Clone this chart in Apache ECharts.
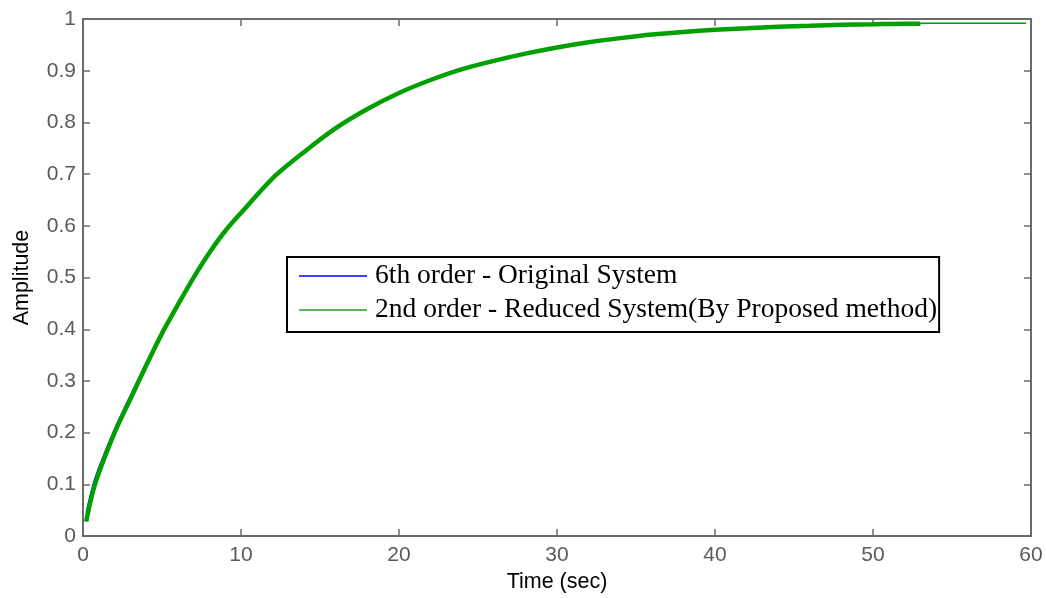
<!DOCTYPE html>
<html>
<head>
<meta charset="utf-8">
<script src="https://cdn.jsdelivr.net/npm/echarts@6/dist/echarts.min.js"></script>
<style>html,body{margin:0;padding:0;background:#fff;}#c{width:1046px;height:598px;}</style>
</head>
<body>
<div id="c"></div>
<script>
const timeSec = [0.2,0.76,2,3,4,5,6,7,8,9,10,12,14,16,18,20,22,24,26,28,30,32,34,36,38,40,42,44,46,48,50,52,53];
const originalY = [0.045,0.112,0.207,0.272,0.335,0.394,0.448,0.502,0.548,0.59,0.625,0.692,0.743,0.789,0.826,0.857,0.882,0.903,0.919,0.933,0.945,0.955,0.963,0.970,0.975,0.979,0.982,0.985,0.987,0.989,0.990,0.991,0.991];
const reducedY = [0.028,0.10,0.20,0.265,0.33,0.392,0.447,0.50,0.548,0.59,0.625,0.692,0.743,0.789,0.826,0.857,0.882,0.903,0.919,0.933,0.945,0.955,0.963,0.970,0.975,0.979,0.982,0.985,0.987,0.989,0.990,0.991,0.991];
const tailTime = [53,59.7];
const tailY = [0.992,0.992];
const seriesNames = ['6th order - Original System','2nd order - Reduced System(By Proposed method)'];

const pairs = (xs, ys) => xs.map((x,i)=>[x, ys[i]]);
const axisGray = '#6b6b6b';
const blue = '#0000ff', green = '#00a000';
const labelStyle = {color:'#5a5a5a', fontFamily:'Liberation Sans, Arial, sans-serif', fontSize:21};
const nameStyle = {fontFamily:'Liberation Sans, Arial, sans-serif', fontSize:21.5, color:'#000'};
const tick = {show:true, inside:true, length:7, lineStyle:{color:axisGray, width:1.5}};
const line = {show:true, onZero:false, lineStyle:{color:axisGray, width:2}};

const chart = echarts.init(document.getElementById('c'));
chart.setOption({
  animation:false,
  backgroundColor:'#fff',
  grid:{left:83,right:15,top:19,bottom:60,containLabel:false},
  legend:{
    orient:'vertical', left:287, top:257,
    backgroundColor:'#fff', borderColor:'#000', borderWidth:2, borderRadius:0,
    padding:[5,2,8,12], itemWidth:68, itemHeight:10, itemGap:6,
    icon:'path://M0,4.2 L68,4.2 L68,5.8 L0,5.8 Z',
    textStyle:{fontFamily:'Liberation Serif, Times New Roman, serif', fontSize:27.5, color:'#000', padding:[0,0,0,3]},
    data:[{name:seriesNames[0], itemStyle:{color:blue}},{name:seriesNames[1], itemStyle:{color:'#22a022'}}]
  },
  xAxis:[
    {type:'value', min:0, max:60, interval:10, position:'bottom',
     name:'Time (sec)', nameLocation:'middle', nameGap:34, nameTextStyle:nameStyle,
     axisLine:line, axisTick:tick,
     axisLabel:{...labelStyle, margin:9},
     splitLine:{show:false}},
    {type:'value', min:0, max:60, interval:10, position:'top',
     axisLine:line, axisTick:tick,
     axisLabel:{show:false}, splitLine:{show:false}}
  ],
  yAxis:[
    {type:'value', min:0, max:1, interval:0.1, position:'left',
     name:'Amplitude', nameLocation:'middle', nameGap:50, nameRotate:90, nameTextStyle:nameStyle,
     axisLine:line, axisTick:tick,
     axisLabel:{...labelStyle, margin:7, formatter:v=>String(Math.round(v*10)/10)},
     splitLine:{show:false}},
    {type:'value', min:0, max:1, interval:0.1, position:'right',
     axisLine:line, axisTick:tick,
     axisLabel:{show:false}, splitLine:{show:false}}
  ],
  series:[
    {name:seriesNames[0], type:'line', color:blue, showSymbol:false, smooth:0.3, data:pairs(timeSec, originalY),
     lineStyle:{color:blue, width:1.5}, itemStyle:{color:blue}, z:2},
    {name:seriesNames[1], type:'line', color:green, showSymbol:false, smooth:0.3, data:pairs(timeSec, reducedY),
     lineStyle:{color:green, width:4.5}, itemStyle:{color:green}, z:3},
    {name:'tail', type:'line', color:green, showSymbol:false, data:pairs(tailTime, tailY),
     lineStyle:{color:green, width:1.5}, z:3}
  ]
});
</script>
</body>
</html>
